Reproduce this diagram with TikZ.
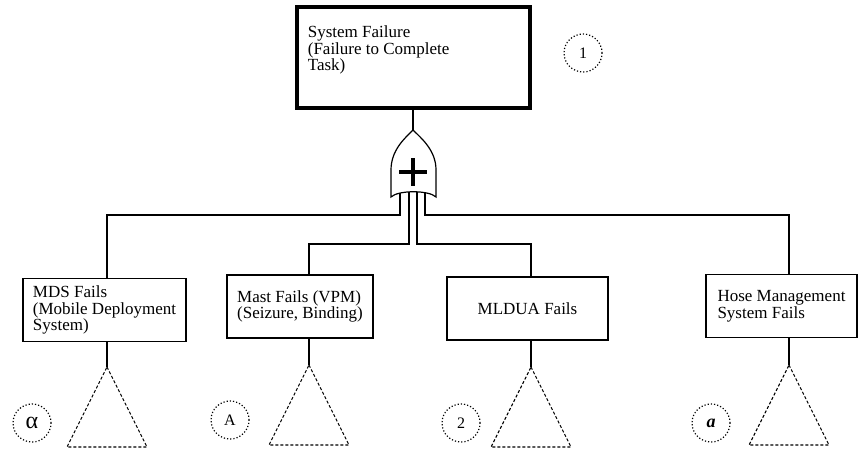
\documentclass[tikz,border=0pt]{standalone}
\usepackage{fontspec}
\setmainfont{Liberation Serif}
\usetikzlibrary{calc}

\tikzset{
  event/.style={draw, line width=1.3, align=left, inner xsep=10, minimum height=63,
    font=\fontsize{17}{16.8}\selectfont},
  transfer/.style={draw, dash pattern=on 3 off 2, line width=1.1},
  tag/.style={circle, draw, dotted, line width=1.2, minimum size=38, inner sep=0,
    font=\fontsize{16}{16}\selectfont},
}

\begin{document}
\begin{tikzpicture}[x=1pt, y=-1pt, line width=1.2]
    \useasboundingbox (0,0) rectangle (859,451);

    % Top event
    \node[draw, line width=3.5, minimum width=233, minimum height=101] (top) at (413.5,57.5) {};
    \node[anchor=north west, align=left, inner sep=0, font=\fontsize{17}{16.5}\selectfont]
        (toptext) at ($(top.north west)+(12,20)$) {System Failure\\(Failure to Complete\\Task)};
    \node[tag] (tag1) at (583,53) {1};

    % OR gate inputs
    \coordinate (gtip) at (413,130);
    \coordinate (g1) at (400,190);
    \coordinate (g2) at (409,190);
    \coordinate (g3) at (417,190);
    \coordinate (g4) at (425,190);

    % Basic events
    \node[event, minimum width=161] (mds) at (104.5,310) {MDS Fails\\(Mobile Deployment\\System)};
    \node[event, minimum width=146] (mast) at (300,306.5) {Mast Fails (VPM)\\(Seizure, Binding)};
    \node[event, minimum width=161] (mldua) at (527.5,308.5) {MLDUA Fails};
    \node[event, minimum width=151] (hose) at (781.5,306) {Hose Management\\System Fails};

    % Transfer triangles
    \coordinate (t1) at (107,367);
    \coordinate (t2) at (309,365);
    \coordinate (t3) at (531,367);
    \coordinate (t4) at (789,365);

    % Connections
    \draw (g1) -- ++(0,25) -| (mds.north -| t1);
    \draw (g4) -- ++(0,25) -| (hose.north -| t4);
    \draw (g2) -- ++(0,54) -| (mast.north -| t2);
    \draw (g3) -- ++(0,54) -| (mldua.north -| t3);
    \draw (top.south -| gtip) -- (gtip);

    % OR gate
    \draw[fill=white] (gtip) .. controls (421,138) and (436,150) .. (436,170) -- (436,197)
        .. controls (429,190) and (398,190) .. (391,197) -- (391,170)
        .. controls (391,150) and (405,138) .. cycle;
    \draw[line width=4] (399,172) -- (427,172) (413,158) -- (413,186);

    \foreach \b/\t in {mds/t1, mast/t2, mldua/t3, hose/t4} {
        \draw (\b.south -| \t) -- (\t);
        \draw[transfer] (\t) -- ++(40,80) -- ++(-80,0) -- cycle;
    }

    % Tags
    \node[tag, font=\fontsize{24}{24}\selectfont] (tagalpha) at (32,423) {α};
    \node[tag] (tagA) at (230,420) {A};
    \node[tag] (tag2) at (461,423) {2};
    \node[tag, font=\fontsize{18}{18}\selectfont\bfseries\itshape] (taga) at (711,423) {a};
\end{tikzpicture}
\end{document}
